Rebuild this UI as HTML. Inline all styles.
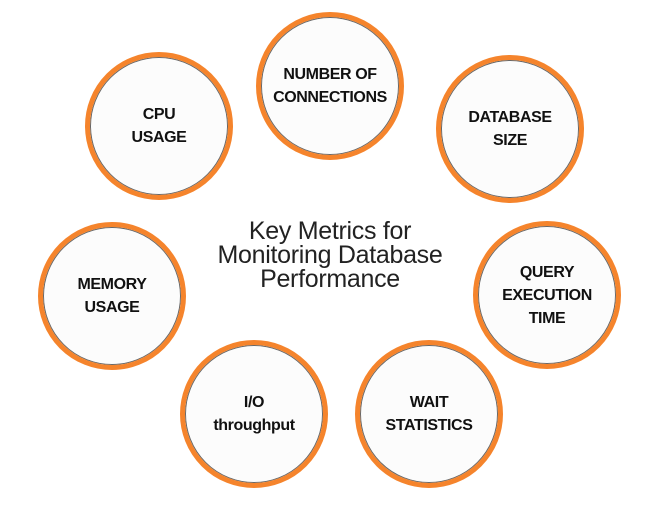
<!DOCTYPE html>
<html><head><style>
body{margin:0;width:657px;height:507px;background:#fff;overflow:hidden;position:relative;font-family:"Liberation Sans",sans-serif}
.c{position:absolute;width:138px;height:138px;border-radius:50%;border:5px solid #f5842c;box-sizing:content-box;display:flex;align-items:center;justify-content:center;text-align:center;font-weight:bold;font-size:16px;line-height:23px;color:#111;letter-spacing:-0.4px}
.c::before{content:"";position:absolute;inset:0;border-radius:50%;border:1.5px solid #666;background:#fcfcfc;z-index:-1}
.c span{position:relative}
.t{position:absolute;left:180px;top:219px;width:300px;text-align:center;font-size:25px;line-height:24px;color:#222;letter-spacing:-0.3px}
</style></head><body>
<div class="c" style="left:85px;top:52px"><span>CPU<br>USAGE</span></div>
<div class="c" style="left:256px;top:12px"><span>NUMBER OF<br>CONNECTIONS</span></div>
<div class="c" style="left:436px;top:55px"><span>DATABASE<br>SIZE</span></div>
<div class="c" style="left:38px;top:222px"><span>MEMORY<br>USAGE</span></div>
<div class="c" style="left:473px;top:221px"><span>QUERY<br>EXECUTION<br>TIME</span></div>
<div class="c" style="left:180px;top:340px"><span>I/O<br>throughput</span></div>
<div class="c" style="left:355px;top:340px"><span>WAIT<br>STATISTICS</span></div>
<div class="t">Key Metrics for<br>Monitoring Database<br>Performance</div>
</body></html>
